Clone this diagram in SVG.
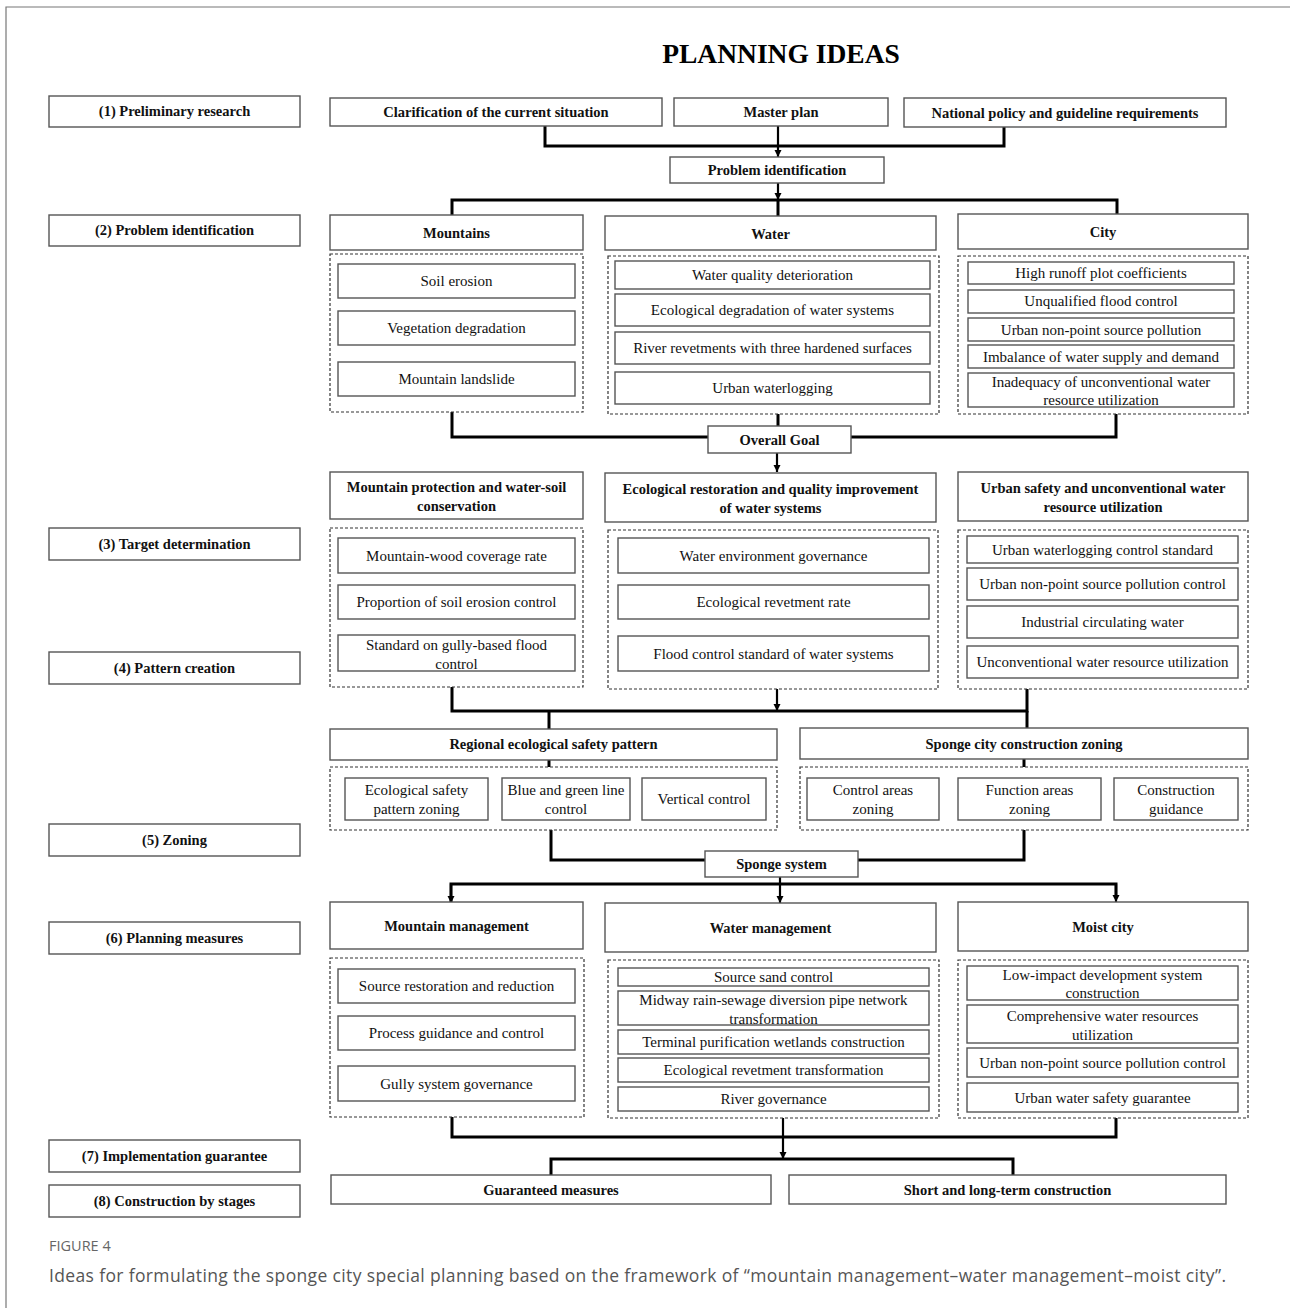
<svg xmlns="http://www.w3.org/2000/svg" width="1290" height="1308" viewBox="0 0 1290 1308">
<defs>
<style>
.b{fill:#fff;stroke:#555;stroke-width:1.4}
.d{fill:none;stroke:#333;stroke-width:1.2;stroke-dasharray:3,2}
.c{fill:none;stroke:#000;stroke-width:3}
.a{fill:none;stroke:#000;stroke-width:2.2}
.t{font-family:"Liberation Serif","Times New Roman",serif;font-size:15px;fill:#111;text-anchor:middle}
.h{font-family:"Liberation Serif","Times New Roman",serif;font-size:14.5px;font-weight:bold;fill:#111;text-anchor:middle}
</style>
<marker id="ar" viewBox="0 0 10 10" refX="10" refY="5" markerWidth="7" markerHeight="8" markerUnits="userSpaceOnUse" orient="auto">
<path d="M0,0 L10,5 L0,10 z" fill="#000"/>
</marker>
</defs>
<rect width="1290" height="1308" fill="#fff"/>
<path d="M6,1308 V7 H1290" fill="none" stroke="#777" stroke-width="1.2"/>
<text x="781" y="63" style="font-family:'Liberation Serif','Times New Roman',serif;font-size:27.5px;font-weight:bold;fill:#000;text-anchor:middle">PLANNING IDEAS</text>

<g id="steps">
<g id="s1"><rect class="b" x="49" y="96" width="251" height="31"/><text class="h" x="174.5" y="116">(1) Preliminary research</text></g>
<g id="s2"><rect class="b" x="49" y="215" width="251" height="31"/><text class="h" x="174.5" y="235">(2) Problem identification</text></g>
<g id="s3"><rect class="b" x="49" y="528" width="251" height="32"/><text class="h" x="174.5" y="549">(3) Target determination</text></g>
<g id="s4"><rect class="b" x="49" y="652" width="251" height="32"/><text class="h" x="174.5" y="673">(4) Pattern creation</text></g>
<g id="s5"><rect class="b" x="49" y="824" width="251" height="32"/><text class="h" x="174.5" y="845">(5) Zoning</text></g>
<g id="s6"><rect class="b" x="49" y="922" width="251" height="32"/><text class="h" x="174.5" y="943">(6) Planning measures</text></g>
<g id="s7"><rect class="b" x="49" y="1140" width="251" height="32"/><text class="h" x="174.5" y="1161">(7) Implementation guarantee</text></g>
<g id="s8"><rect class="b" x="49" y="1185" width="251" height="32"/><text class="h" x="174.5" y="1206">(8) Construction by stages</text></g>
</g>

<g id="connectors">
<path class="c" d="M545,126 V146 H1004 V127"/>
<path class="a" d="M778,126 V157" marker-end="url(#ar)"/>
<path class="a" d="M778,183 V200" marker-end="url(#ar)"/>
<path class="c" d="M452,215 V200 H1117 V214"/>
<path class="c" d="M778,200 V216"/>
<path class="c" d="M452,412 V437 H708"/>
<path class="c" d="M851,437 H1116 V414"/>
<path class="c" d="M778,414 V426"/>
<path class="a" d="M777,453 V472" marker-end="url(#ar)"/>
<path class="c" d="M452,687 V711 H1027 V689"/>
<path class="a" d="M777,689 V711" marker-end="url(#ar)"/>
<path class="c" d="M549,711 V729"/>
<path class="c" d="M1027,711 V728"/>
<path class="c" d="M549,760 V767"/>
<path class="c" d="M1024,759 V767"/>
<path class="c" d="M551,830 V860 H705"/>
<path class="c" d="M1024,830 V860 H858"/>
<path class="c" d="M451,903 V884 H1116 V895"/>
<path class="a" d="M451,884 V903" marker-end="url(#ar)"/>
<path class="a" d="M1116,884 V902" marker-end="url(#ar)"/>
<path class="a" d="M780,877 V903" marker-end="url(#ar)"/>
<path class="c" d="M452,1117 V1137 H1116 V1118"/>
<path class="a" d="M783,1118 V1159" marker-end="url(#ar)"/>
<path class="c" d="M551,1175 V1159 H1013 V1175"/>
</g>

<g id="top">
<g id="n-clar"><rect class="b" x="330" y="98" width="332" height="28"/><text class="h" x="496" y="117">Clarification of the current situation</text></g>
<g id="n-master"><rect class="b" x="674" y="98" width="214" height="28"/><text class="h" x="781" y="117">Master plan</text></g>
<g id="n-nat"><rect class="b" x="904" y="98" width="322" height="29"/><text class="h" x="1065" y="118">National policy and guideline requirements</text></g>
<g id="n-prob"><rect class="b" x="670" y="157" width="214" height="26"/><text class="h" x="777" y="175">Problem identification</text></g>
</g>

<g id="problems">
<g id="n-mount"><rect class="b" x="330" y="215" width="253" height="35"/><text class="h" x="456.5" y="238">Mountains</text>
<rect class="d" x="330" y="254" width="253" height="158"/>
<rect class="b" x="338" y="264" width="237" height="34"/><text class="t" x="456.5" y="286">Soil erosion</text>
<rect class="b" x="338" y="311" width="237" height="34"/><text class="t" x="456.5" y="333">Vegetation degradation</text>
<rect class="b" x="338" y="362" width="237" height="34"/><text class="t" x="456.5" y="384">Mountain landslide</text>
</g>
<g id="n-water"><rect class="b" x="605" y="216" width="331" height="34"/><text class="h" x="770.5" y="239">Water</text>
<rect class="d" x="608" y="256" width="331" height="158"/>
<rect class="b" x="615" y="261" width="315" height="28"/><text class="t" x="772.5" y="280">Water quality deterioration</text>
<rect class="b" x="615" y="294" width="315" height="32"/><text class="t" x="772.5" y="315">Ecological degradation of water systems</text>
<rect class="b" x="615" y="332" width="315" height="32"/><text class="t" x="772.5" y="353">River revetments with three hardened surfaces</text>
<rect class="b" x="615" y="372" width="315" height="32"/><text class="t" x="772.5" y="393">Urban waterlogging</text>
</g>
<g id="n-city"><rect class="b" x="958" y="214" width="290" height="35"/><text class="h" x="1103" y="237">City</text>
<rect class="d" x="958" y="256" width="290" height="158"/>
<rect class="b" x="968" y="262" width="266" height="22"/><text class="t" x="1101" y="278">High runoff plot coefficients</text>
<rect class="b" x="968" y="290" width="266" height="23"/><text class="t" x="1101" y="306">Unqualified flood control</text>
<rect class="b" x="968" y="318" width="266" height="23"/><text class="t" x="1101" y="335">Urban non-point source pollution</text>
<rect class="b" x="968" y="345" width="266" height="23"/><text class="t" x="1101" y="362">Imbalance of water supply and demand</text>
<rect class="b" x="968" y="373" width="266" height="34"/><text class="t" x="1101" y="387">Inadequacy of unconventional water<tspan x="1101" y="405">resource utilization</tspan></text>
</g>
</g>

<g id="n-goal"><rect class="b" x="708" y="426" width="143" height="27"/><text class="h" x="779.5" y="445">Overall Goal</text></g>

<g id="targets">
<g id="n-mpro"><rect class="b" x="330" y="472" width="253" height="47"/><text class="h" x="456.5" y="492">Mountain protection and water-soil<tspan x="456.5" y="511">conservation</tspan></text>
<rect class="d" x="330" y="528" width="253" height="159"/>
<rect class="b" x="338" y="538" width="237" height="35"/><text class="t" x="456.5" y="561">Mountain-wood coverage rate</text>
<rect class="b" x="338" y="585" width="237" height="34"/><text class="t" x="456.5" y="607">Proportion of soil erosion control</text>
<rect class="b" x="338" y="635" width="237" height="36"/><text class="t" x="456.5" y="650">Standard on gully-based flood<tspan x="456.5" y="669">control</tspan></text>
</g>
<g id="n-eco"><rect class="b" x="605" y="473" width="331" height="49"/><text class="h" x="770.5" y="494">Ecological restoration and quality improvement<tspan x="770.5" y="513">of water systems</tspan></text>
<rect class="d" x="608" y="530" width="330" height="159"/>
<rect class="b" x="618" y="538" width="311" height="35"/><text class="t" x="773.5" y="561">Water environment governance</text>
<rect class="b" x="618" y="585" width="311" height="34"/><text class="t" x="773.5" y="607">Ecological revetment rate</text>
<rect class="b" x="618" y="636" width="311" height="35"/><text class="t" x="773.5" y="659">Flood control standard of water systems</text>
</g>
<g id="n-urb"><rect class="b" x="958" y="472" width="290" height="49"/><text class="h" x="1103" y="493">Urban safety and unconventional water<tspan x="1103" y="512">resource utilization</tspan></text>
<rect class="d" x="958" y="530" width="290" height="159"/>
<rect class="b" x="967" y="536" width="271" height="27"/><text class="t" x="1102.5" y="555">Urban waterlogging control standard</text>
<rect class="b" x="967" y="568" width="271" height="32"/><text class="t" x="1102.5" y="589">Urban non-point source pollution control</text>
<rect class="b" x="967" y="606" width="271" height="32"/><text class="t" x="1102.5" y="627">Industrial circulating water</text>
<rect class="b" x="967" y="646" width="271" height="32"/><text class="t" x="1102.5" y="667">Unconventional water resource utilization</text>
</g>
</g>

<g id="zoning">
<g id="n-reg"><rect class="b" x="330" y="729" width="447" height="31"/><text class="h" x="553.5" y="749">Regional ecological safety pattern</text>
<rect class="d" x="330" y="767" width="447" height="63"/>
<rect class="b" x="345" y="778" width="143" height="42"/><text class="t" x="416.5" y="795">Ecological safety<tspan x="416.5" y="814">pattern zoning</tspan></text>
<rect class="b" x="502" y="778" width="128" height="42"/><text class="t" x="566" y="795">Blue and green line<tspan x="566" y="814">control</tspan></text>
<rect class="b" x="642" y="778" width="124" height="42"/><text class="t" x="704" y="804">Vertical control</text>
</g>
<g id="n-spz"><rect class="b" x="800" y="728" width="448" height="31"/><text class="h" x="1024" y="749">Sponge city construction zoning</text>
<rect class="d" x="800" y="767" width="448" height="63"/>
<rect class="b" x="807" y="778" width="132" height="42"/><text class="t" x="873" y="795">Control areas<tspan x="873" y="814">zoning</tspan></text>
<rect class="b" x="958" y="778" width="143" height="42"/><text class="t" x="1029.5" y="795">Function  areas<tspan x="1029.5" y="814">zoning</tspan></text>
<rect class="b" x="1114" y="778" width="124" height="42"/><text class="t" x="1176" y="795">Construction<tspan x="1176" y="814">guidance</tspan></text>
</g>
</g>

<g id="n-sponge"><rect class="b" x="705" y="851" width="153" height="26"/><text class="h" x="781.5" y="869">Sponge system</text></g>

<g id="measures">
<g id="n-mm"><rect class="b" x="330" y="902" width="253" height="47"/><text class="h" x="456.5" y="931">Mountain management</text>
<rect class="d" x="330" y="958" width="254" height="159"/>
<rect class="b" x="338" y="969" width="237" height="34"/><text class="t" x="456.5" y="991">Source restoration and reduction</text>
<rect class="b" x="338" y="1016" width="237" height="34"/><text class="t" x="456.5" y="1038">Process guidance and control</text>
<rect class="b" x="338" y="1066" width="237" height="35"/><text class="t" x="456.5" y="1089">Gully system governance</text>
</g>
<g id="n-wm"><rect class="b" x="605" y="903" width="331" height="49"/><text class="h" x="770.5" y="933">Water management</text>
<rect class="d" x="608" y="960" width="331" height="158"/>
<rect class="b" x="618" y="968" width="311" height="18"/><text class="t" x="773.5" y="982">Source sand control</text>
<rect class="b" x="618" y="991" width="311" height="34"/><text class="t" x="773.5" y="1005">Midway rain-sewage diversion pipe network<tspan x="773.5" y="1024">transformation</tspan></text>
<rect class="b" x="618" y="1030" width="311" height="24"/><text class="t" x="773.5" y="1047">Terminal purification wetlands construction</text>
<rect class="b" x="618" y="1058" width="311" height="24"/><text class="t" x="773.5" y="1075">Ecological revetment transformation</text>
<rect class="b" x="618" y="1087" width="311" height="24"/><text class="t" x="773.5" y="1104">River governance</text>
</g>
<g id="n-mc"><rect class="b" x="958" y="902" width="290" height="49"/><text class="h" x="1103" y="932">Moist city</text>
<rect class="d" x="958" y="960" width="290" height="158"/>
<rect class="b" x="967" y="966" width="271" height="34"/><text class="t" x="1102.5" y="980">Low-impact development system<tspan x="1102.5" y="998">construction</tspan></text>
<rect class="b" x="967" y="1005" width="271" height="38"/><text class="t" x="1102.5" y="1021">Comprehensive water resources<tspan x="1102.5" y="1040">utilization</tspan></text>
<rect class="b" x="967" y="1048" width="271" height="29"/><text class="t" x="1102.5" y="1068">Urban non-point source pollution control</text>
<rect class="b" x="967" y="1083" width="271" height="29"/><text class="t" x="1102.5" y="1103">Urban water safety guarantee</text>
</g>
</g>

<g id="bottom">
<g id="n-guar"><rect class="b" x="331" y="1175" width="440" height="29"/><text class="h" x="551" y="1195">Guaranteed measures</text></g>
<g id="n-short"><rect class="b" x="789" y="1175" width="437" height="29"/><text class="h" x="1007.5" y="1195">Short and long-term construction</text></g>
</g>

<text x="49" y="1251" style="font-family:'Open Sans','Noto Sans',sans-serif;font-size:14.5px;fill:#666">FIGURE 4</text>
<text x="49" y="1282" textLength="1177" lengthAdjust="spacing" style="font-family:'Open Sans','Noto Sans',sans-serif;font-size:17.5px;fill:#555">Ideas for formulating the sponge city special planning based on the framework of “mountain management–water management–moist city”.</text>
</svg>
